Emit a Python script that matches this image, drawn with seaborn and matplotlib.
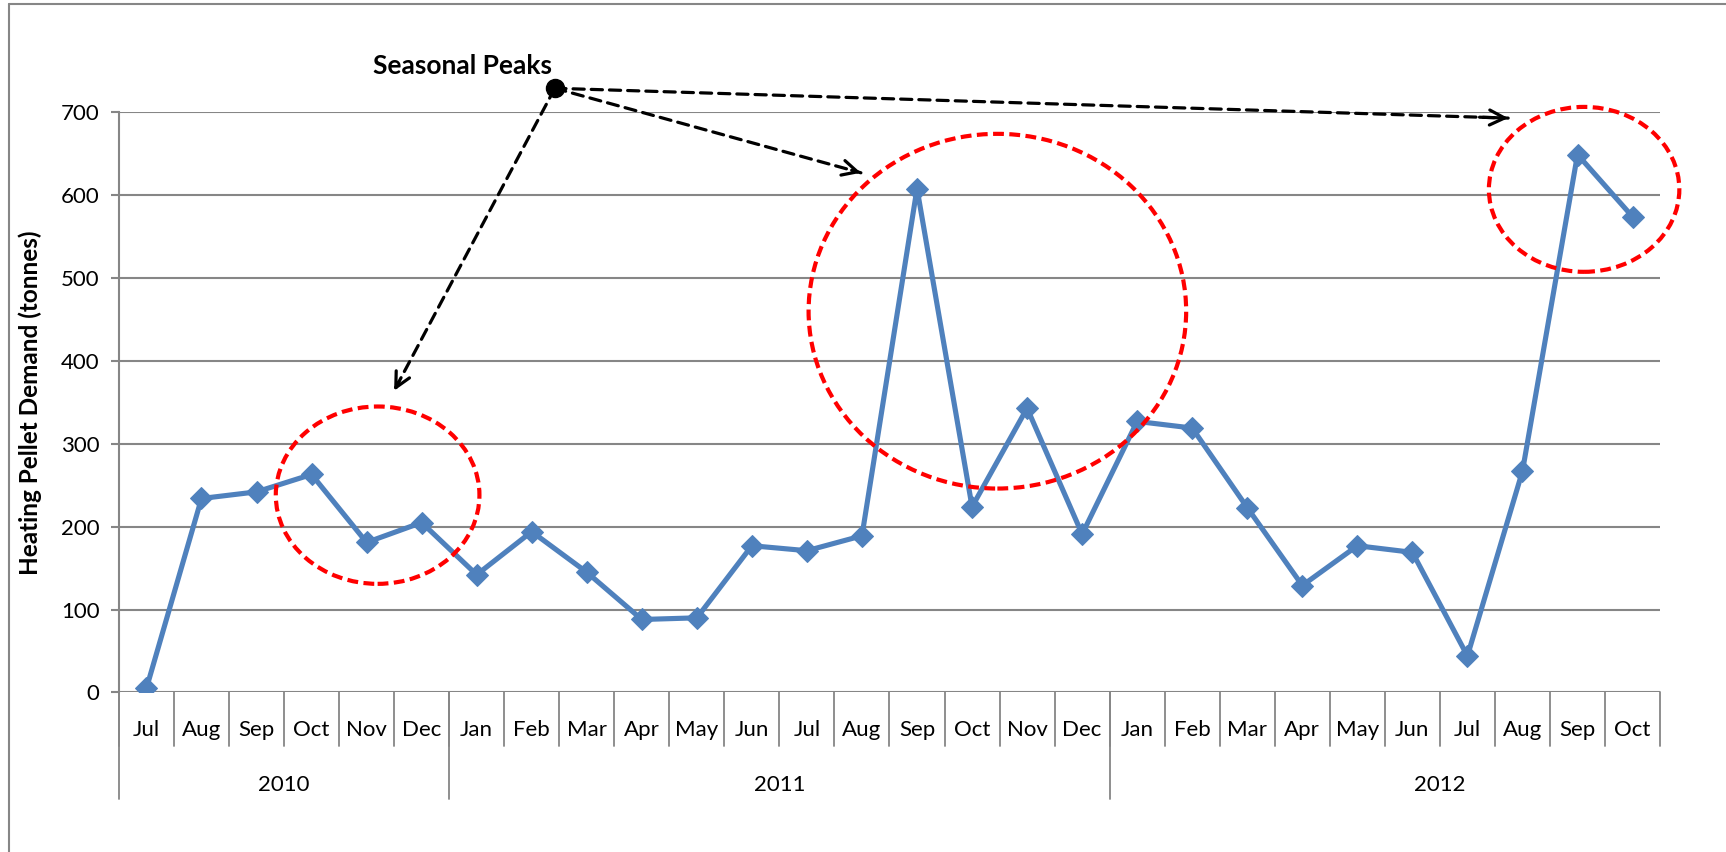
import numpy as np
import pandas as pd
import matplotlib
matplotlib.use("Agg")
import matplotlib.pyplot as plt
import seaborn as sns
from matplotlib.patches import Ellipse
from matplotlib.lines import Line2D

# ---------------- data ----------------
months = ["Jul", "Aug", "Sep", "Oct", "Nov", "Dec",
          "Jan", "Feb", "Mar", "Apr", "May", "Jun", "Jul", "Aug", "Sep", "Oct", "Nov", "Dec",
          "Jan", "Feb", "Mar", "Apr", "May", "Jun", "Jul", "Aug", "Sep", "Oct"]
years = ["2010", "2011", "2012"]
months_per_year = [6, 12, 10]
demand = [5, 234, 242, 263, 181, 205,
          142, 194, 145, 88, 90, 177, 171, 189, 608, 224, 343, 191,
          327, 319, 223, 129, 177, 169, 44, 267, 649, 574]
y_ticks = [0, 100, 200, 300, 400, 500, 600, 700]
y_label = "Heating Pellet Demand (tonnes)"
note_text = "Seasonal Peaks"

# annotation geometry (data coordinates)
note_dot = (7.42, 729)
note_text_pos = (5.74, 756)
arrow_targets = [(4.5, 364), (12.98, 627), (24.74, 693)]
peak_ellipses = [  # (x, y, width, height)
    (4.2, 238, 3.7, 214),
    (15.46, 460, 6.86, 428),
    (26.12, 607, 3.46, 199),
]

# ---------------- style ----------------
sns.set_theme(style="white")
plt.rcParams["font.family"] = ["Lato", "DejaVu Sans"]
GRID = "#868686"
LINE = "#4F81BD"

fig = plt.figure(figsize=(17.26, 8.52), dpi=100)
fig.patch.set_facecolor("white")
ax = fig.add_axes([0.0689, 0.1873, 0.8929, 0.6809])

df = pd.DataFrame({"idx": np.arange(len(demand)), "demand": demand})
sns.lineplot(data=df, x="idx", y="demand", ax=ax, color=LINE, lw=3.7,
             marker="D", markersize=11, markeredgecolor=LINE, zorder=4)

ax.set_xlim(-0.5, len(demand) - 0.5)
ax.set_ylim(0, 700)
ax.set_yticks(y_ticks)
ax.set_yticklabels([str(v) for v in y_ticks])
ax.yaxis.grid(True, color=GRID, lw=1.5)
ax.set_axisbelow(True)
for s in ["top", "right", "bottom"]:
    ax.spines[s].set_visible(False)
ax.spines["left"].set_color(GRID)
ax.spines["left"].set_linewidth(1.5)

ax.tick_params(axis="y", length=6, width=1.5, color=GRID, labelsize=16,
               pad=8, labelcolor="black", left=True)
ax.set_xticks(np.arange(len(months)))
ax.set_xticklabels(months)
ax.tick_params(axis="x", length=0, labelsize=16, pad=20, labelcolor="black")

ax.set_xlabel("")
ax.set_ylabel(y_label, fontsize=17.5, fontweight="bold", color="black")
ax.yaxis.set_label_coords(-0.050, 0.5)

# multi-level category separators
trans = ax.get_xaxis_transform()
for b in np.arange(-0.5, len(months)):
    ax.plot([b, b], [0, -0.093], transform=trans, clip_on=False, color=GRID, lw=1.3)
starts = np.concatenate([[0], np.cumsum(months_per_year)[:-1]]) - 0.5
for s in starts:
    ax.plot([s, s], [0, -0.184], transform=trans, clip_on=False, color=GRID, lw=1.3)
for i, (yr, n) in enumerate(zip(years, months_per_year)):
    span = n if i < len(years) - 1 else 12
    cx = starts[i] + span / 2
    ax.text(cx, -0.159, yr, transform=trans, ha="center", va="center",
            fontsize=16, color="black")

# red dashed ellipses
for (ex, ey, ew, eh) in peak_ellipses:
    ax.add_patch(Ellipse((ex, ey), ew, eh, fill=False, ec="#FF0000", lw=3.0,
                         ls=(0, (2.6, 1.3)), clip_on=False, zorder=5))

# arrows
for (tx, ty) in arrow_targets:
    ax.annotate("", xy=(tx, ty), xytext=note_dot, annotation_clip=False,
                arrowprops=dict(arrowstyle="-", ls=(0, (3.5, 2.2)), lw=2.3,
                                color="black", shrinkA=0, shrinkB=0), zorder=6)
    sx = tx - 0.03 * (tx - note_dot[0])
    sy = ty - 0.03 * (ty - note_dot[1])
    ax.annotate("", xy=(tx, ty), xytext=(sx, sy), annotation_clip=False,
                arrowprops=dict(arrowstyle="->,head_length=0.9,head_width=0.45",
                                lw=2.3, color="black", shrinkA=0, shrinkB=0), zorder=6)
ax.plot([note_dot[0]], [note_dot[1]], "o", color="black", ms=13, clip_on=False, zorder=7)
ax.text(note_text_pos[0], note_text_pos[1], note_text, ha="center", va="center",
        fontsize=19, fontweight="bold", color="black", clip_on=False)

# outer frame (left and top)
fig.add_artist(Line2D([9 / 1726, 9 / 1726], [0, 1 - 4 / 852], transform=fig.transFigure,
                      color=GRID, lw=1.5))
fig.add_artist(Line2D([9 / 1726, 1], [1 - 4 / 852, 1 - 4 / 852], transform=fig.transFigure,
                      color=GRID, lw=1.5))

fig.savefig("out.png", dpi=100)
